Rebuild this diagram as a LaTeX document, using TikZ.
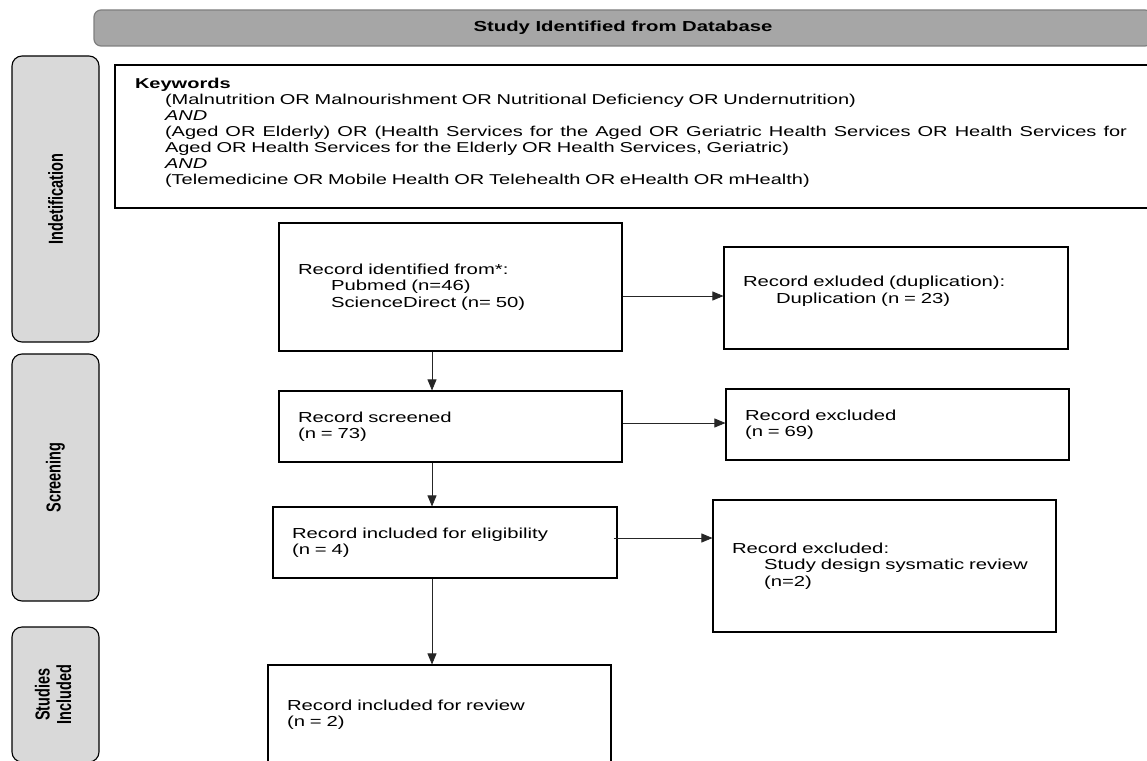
\documentclass[tikz,border=0pt]{standalone}
\usepackage{fontspec}
\usepackage{graphicx}
\setmainfont{Liberation Sans}
\newfontfamily\widef[FakeStretch=1.4]{Liberation Sans}
\usetikzlibrary{arrows.meta,calc}
\definecolor{bannerfill}{HTML}{A6A6A6}
\definecolor{bannerline}{HTML}{7F7F7F}
\definecolor{sidefill}{HTML}{D9D9D9}
\tikzset{
  txt/.style={font=\widef\fontsize{14.5pt}{16.5pt}\selectfont},
  box/.style 2 args={draw=black, line width=1.1pt, txt, minimum height=#2, text width=#1, inner xsep=19pt, inner ysep=0pt, align=left},
  sidebox/.style={draw=black, line width=1.1pt, fill=sidefill, rounded corners=10pt, minimum width=87pt, inner sep=0pt, font=\fontsize{14.5pt}{17.5pt}\selectfont\bfseries},
  arr/.style={draw=black!85, line width=0.7pt, -{Triangle[length=11pt,width=9pt]}}
}
\begin{document}
\begin{tikzpicture}[x=1pt,y=-1pt]
\useasboundingbox (0,0) rectangle (1147,760);
% banner
\node[draw=bannerline, line width=1.2pt, fill=bannerfill, rounded corners=7pt, minimum width=1058pt, minimum height=36pt, inner sep=0pt, font=\widef\fontsize{14.5pt}{17.5pt}\selectfont\bfseries] (banner) at (623,28) {Study Identified from Database};
% side boxes
\node[sidebox, minimum height=286pt] (s1) at (55.5,199) {\rotatebox{90}{\scalebox{1}[1.4]{Indetification}}};
\node[sidebox, minimum height=247pt] (s2) at (55.5,477.5) {\rotatebox{90}{\scalebox{1}[1.4]{Screening}}};
\node[sidebox, minimum height=135pt] (s3) at (55.5,694.5) {\rotatebox{90}{\scalebox{1}[1.4]{\begin{tabular}{@{}c@{}}Studies\\[-2pt]Included\end{tabular}}}};
% keywords
\node[box={997pt}{143pt}, inner xsep=20pt, font=\widef\fontsize{14.3pt}{16pt}\selectfont] (kw) at (633.5,136.5) {{\bfseries Keywords}\\
\hspace*{30pt}(Malnutrition OR Malnourishment OR Nutritional Deficiency OR Undernutrition)\\
\hspace*{30pt}{\spaceskip=0.28em plus 1fil\relax\textit{AND}}\\
\hspace*{30pt}{\spaceskip=0.28em plus 1fil\relax\hbox to 962pt{(Aged OR Elderly) OR (Health Services for the Aged OR Geriatric Health Services OR Health Services for}}\\
\hspace*{30pt}Aged OR Health Services for the Elderly OR Health Services, Geriatric)\\
\hspace*{30pt}\textit{AND}\\
\hspace*{30pt}(Telemedicine OR Mobile Health OR Telehealth OR eHealth OR mHealth)\\[-6pt]\mbox{}};
% flow boxes
\node[box={305pt}{128pt}] (rec) at (450.5,287) {Record identified from*:\\\hspace*{33pt}Pubmed (n=46)\\\hspace*{33pt}ScienceDirect (n= 50)};
\node[box={306pt}{102pt}] (dup) at (896,298) {Record exluded (duplication):\\\hspace*{33pt}Duplication (n = 23)\\\mbox{}};
\node[box={305pt}{71pt}] (scr) at (450.5,426.5) {Record screened\\(n = 73)};
\node[box={305pt}{71pt}] (exc) at (897.5,424.5) {Record excluded\\(n = 69)};
\node[box={306pt}{71pt}] (elig) at (445,542.5) {Record included for eligibility\\(n = 4)};
\node[box={305pt}{132pt}] (exc2) at (884.5,566) {Record excluded:\\\hspace*{32pt}Study design sysmatic review\\\hspace*{32pt}(n=2)};
\node[box={305pt}{99pt}] (rev) at (439.5,714.5) {Record included for review\\(n = 2)};
% connectors
\draw[arr] ([yshift=-9pt]rec.east) coordinate (a1) -- (a1 -| dup.west);
\draw[arr] ([yshift=3.5pt]scr.east) coordinate (a2) -- (a2 -| exc.west);
\draw[arr] ([yshift=4.5pt,xshift=-4pt]elig.east) coordinate (a3) -- (a3 -| exc2.west);
\draw[arr] ([xshift=-18.5pt]rec.south) coordinate (b1) -- (b1 |- scr.north);
\draw[arr] ([xshift=-18.5pt]scr.south) coordinate (b2) -- (b2 |- elig.north);
\draw[arr] ([xshift=-13pt]elig.south) coordinate (b3) -- (b3 |- rev.north);
\end{tikzpicture}
\end{document}
